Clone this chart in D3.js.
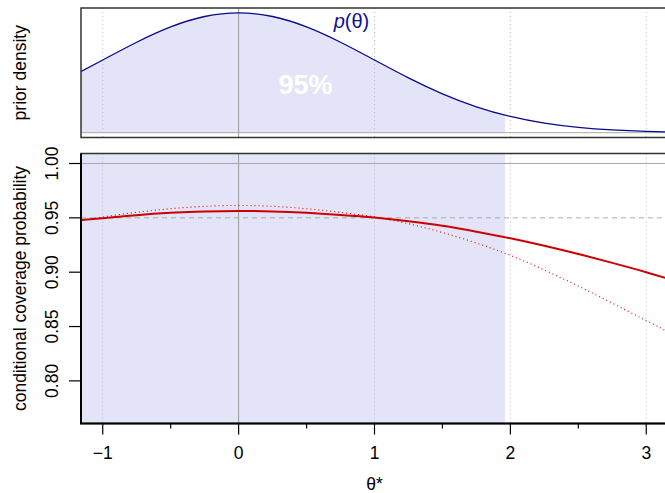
<!DOCTYPE html>
<html>
<head>
<meta charset="utf-8">
<script src="https://cdn.jsdelivr.net/npm/d3@7"></script>
<style>
  body { margin: 0; background: #fff; }
  svg { display: block; font-family: "Liberation Sans", Arial, sans-serif; }
</style>
</head>
<body>
<div id="chart"></div>
<script>
// theta grid used for all the curves
const theta = [-1.2, -1.0, -0.75, -0.5, -0.25, 0, 0.25, 0.5, 0.75, 1.0, 1.25, 1.5, 1.75, 2.0, 2.25, 2.5, 2.75, 3.0, 3.2];
// prior density p(theta)
const prior = [0.1942, 0.2420, 0.3011, 0.3521, 0.3867, 0.3989, 0.3867, 0.3521, 0.3011, 0.2420, 0.1826, 0.1295, 0.0863, 0.0540, 0.0317, 0.0175, 0.0091, 0.0044, 0.0024];
// conditional coverage, solid and dotted curves
const coverage = [0.9476, 0.9497, 0.9525, 0.9546, 0.9559, 0.9563, 0.9559, 0.9546, 0.9527, 0.9503, 0.9468, 0.9427, 0.9373, 0.9312, 0.9243, 0.9167, 0.9086, 0.9000, 0.8925];
const coverageAlt = [0.9462, 0.9508, 0.9551, 0.9584, 0.9606, 0.9614, 0.9606, 0.9584, 0.9551, 0.9508, 0.9446, 0.9365, 0.9268, 0.9155, 0.9020, 0.8872, 0.8715, 0.8555, 0.8425];
// 95% prior interval
const credLower = -1.96;
const credUpper = 1.96;
const nominal = 0.95;
const xTicks = [-1, 0, 1, 2, 3];
const xMinor = [-0.5, 0.5, 1.5, 2.5];
const yTicks = [0.80, 0.85, 0.90, 0.95, 1.00];

const W = 665, H = 493;
const left = 81, right = 668;
const top1 = 8, bot1 = 137.5;
const top2 = 153.5, bot2 = 423.5;
const shade = "#E3E4F7";

const svg = d3.select("#chart").append("svg")
    .attr("width", W)
    .attr("height", H);

const x = d3.scaleLinear().domain([-1.16, 3.16]).range([left, right]);
const y1 = d3.scaleLinear().domain([-0.016, 0.415]).range([bot1, top1]);
const y2 = d3.scaleLinear().domain([0.7608, 1.0092]).range([bot2, top2]);

const pts = (ys) => theta.map((t, i) => [t, ys[i]]);

const defs = svg.append("defs");
defs.append("clipPath").attr("id", "clip1")
    .append("rect").attr("x", left).attr("y", top1)
    .attr("width", right - left).attr("height", bot1 - top1);
defs.append("clipPath").attr("id", "clip2")
    .append("rect").attr("x", left).attr("y", top2)
    .attr("width", right - left).attr("height", bot2 - top2);
defs.append("clipPath").attr("id", "clipCred")
    .append("rect").attr("x", x(credLower)).attr("y", 0)
    .attr("width", x(credUpper) - x(credLower)).attr("height", H);

// ---------- top panel: prior density ----------
const g1 = svg.append("g").attr("clip-path", "url(#clip1)");

g1.append("g").attr("clip-path", "url(#clipCred)")
    .append("path")
    .datum(pts(prior))
    .attr("d", d3.area()
        .x(d => x(d[0]))
        .y0(y1(0))
        .y1(d => y1(d[1]))
        .curve(d3.curveNatural))
    .attr("fill", shade);

g1.selectAll("line.vgrid")
    .data(xTicks.filter(d => d !== 0))
    .enter().append("line")
    .attr("x1", d => x(d)).attr("x2", d => x(d))
    .attr("y1", top1).attr("y2", bot1)
    .attr("stroke", "#bbbbbb")
    .attr("stroke-dasharray", "1,3");

g1.append("line")
    .attr("x1", x(0)).attr("x2", x(0))
    .attr("y1", top1).attr("y2", bot1)
    .attr("stroke", "#999999");

g1.append("line")
    .attr("x1", left).attr("x2", right)
    .attr("y1", y1(0)).attr("y2", y1(0))
    .attr("stroke", "#aaaaaa");

g1.append("path")
    .datum(pts(prior))
    .attr("d", d3.line().x(d => x(d[0])).y(d => y1(d[1])).curve(d3.curveNatural))
    .attr("fill", "none")
    .attr("stroke", "#0a0a8c")
    .attr("stroke-width", 1.3);

svg.append("text")
    .attr("x", 305.5).attr("y", 94)
    .attr("text-anchor", "middle")
    .attr("font-size", 27)
    .attr("font-weight", "bold")
    .attr("fill", "#ffffff")
    .text("95%");

const pt = svg.append("text")
    .attr("x", 351.5).attr("y", 28)
    .attr("text-anchor", "middle")
    .attr("font-size", 20)
    .attr("fill", "#101094");
pt.append("tspan").attr("font-style", "italic").text("p");
pt.append("tspan").text("(θ)");

svg.append("path")
    .attr("d", "M" + right + "," + top1 + "H" + left + "V" + bot1 + "H" + right)
    .attr("fill", "none")
    .attr("stroke", "#333333")
    .attr("stroke-width", 1.5);

svg.append("text")
    .attr("transform", "translate(26," + ((top1 + bot1) / 2) + ") rotate(-90)")
    .attr("text-anchor", "middle")
    .attr("font-size", 17.5)
    .attr("fill", "#000")
    .text("prior density");

// ---------- bottom panel: conditional coverage ----------
const g2 = svg.append("g").attr("clip-path", "url(#clip2)");

g2.append("rect")
    .attr("x", x(credLower)).attr("y", top2)
    .attr("width", x(credUpper) - x(credLower))
    .attr("height", bot2 - top2)
    .attr("fill", shade);

g2.selectAll("line.vgrid")
    .data(xTicks.filter(d => d !== 0))
    .enter().append("line")
    .attr("x1", d => x(d)).attr("x2", d => x(d))
    .attr("y1", top2).attr("y2", bot2)
    .attr("stroke", "#bbbbbb")
    .attr("stroke-dasharray", "1,3");

g2.append("line")
    .attr("x1", x(0)).attr("x2", x(0))
    .attr("y1", top2).attr("y2", bot2)
    .attr("stroke", "#999999");

g2.append("line")
    .attr("x1", left).attr("x2", right)
    .attr("y1", y2(1)).attr("y2", y2(1))
    .attr("stroke", "#aaaaaa");

g2.append("line")
    .attr("x1", left).attr("x2", right)
    .attr("y1", y2(nominal)).attr("y2", y2(nominal))
    .attr("stroke", "#aaaaaa")
    .attr("stroke-dasharray", "5,4");

g2.append("path")
    .datum(pts(coverageAlt))
    .attr("d", d3.line().x(d => x(d[0])).y(d => y2(d[1])).curve(d3.curveNatural))
    .attr("fill", "none")
    .attr("stroke", "#dd0000")
    .attr("stroke-width", 1.1)
    .attr("stroke-dasharray", "1,3");

g2.append("path")
    .datum(pts(coverage))
    .attr("d", d3.line().x(d => x(d[0])).y(d => y2(d[1])).curve(d3.curveNatural))
    .attr("fill", "none")
    .attr("stroke", "#cc0000")
    .attr("stroke-width", 2);

svg.append("path")
    .attr("d", "M" + right + "," + top2 + "H" + left + "V" + bot2 + "H" + right)
    .attr("fill", "none")
    .attr("stroke", "#333333")
    .attr("stroke-width", 1.5);
svg.append("path")
    .attr("d", "M" + left + "," + top2 + "V" + bot2 + "H" + right)
    .attr("fill", "none")
    .attr("stroke", "#000")
    .attr("stroke-width", 2);

// y axis
const yAxis = svg.append("g");
yAxis.selectAll("line")
    .data(yTicks)
    .enter().append("line")
    .attr("x1", left - 12).attr("x2", left)
    .attr("y1", d => y2(d)).attr("y2", d => y2(d))
    .attr("stroke", "#000")
    .attr("stroke-width", 1.2);
yAxis.selectAll("text")
    .data(yTicks)
    .enter().append("text")
    .attr("transform", d => "translate(58," + y2(d) + ") rotate(-90)")
    .attr("text-anchor", "middle")
    .attr("font-size", 17.5)
    .text(d => d.toFixed(2));

// x axis
const xAxis = svg.append("g");
xAxis.selectAll("line.major")
    .data(xTicks)
    .enter().append("line")
    .attr("x1", d => x(d)).attr("x2", d => x(d))
    .attr("y1", bot2).attr("y2", bot2 + 11)
    .attr("stroke", "#000")
    .attr("stroke-width", 1.2);
xAxis.selectAll("line.minor")
    .data(xMinor)
    .enter().append("line")
    .attr("x1", d => x(d)).attr("x2", d => x(d))
    .attr("y1", bot2).attr("y2", bot2 + 5)
    .attr("stroke", "#000")
    .attr("stroke-width", 1.2);
xAxis.selectAll("text")
    .data(xTicks)
    .enter().append("text")
    .attr("x", d => x(d)).attr("y", 459)
    .attr("text-anchor", "middle")
    .attr("font-size", 17.5)
    .text(d => d < 0 ? "\u2212" + Math.abs(d) : d);

svg.append("text")
    .attr("x", x(1)).attr("y", 490)
    .attr("text-anchor", "middle")
    .attr("font-size", 17.5)
    .text("θ*");

svg.append("text")
    .attr("transform", "translate(26," + ((top2 + bot2) / 2) + ") rotate(-90)")
    .attr("text-anchor", "middle")
    .attr("font-size", 17.5)
    .text("conditional coverage probability");
</script>
</body>
</html>
